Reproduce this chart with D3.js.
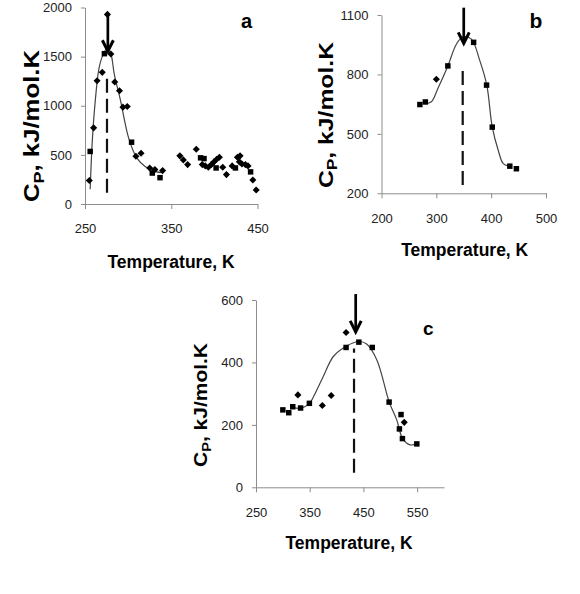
<!DOCTYPE html>
<html><head><meta charset="utf-8">
<script src="https://cdn.jsdelivr.net/npm/d3@7/dist/d3.min.js"></script>
<style>
body{margin:0;background:#fff}
svg{display:block}
text{font-family:"Liberation Sans",Arial,sans-serif}
</style>
</head><body>
<svg id="chart" width="580" height="594"></svg>
<script>
// ---------------- DATA ----------------
// Panel a
const aXTicks = [250, 350, 450];
const aYTicks = [0, 500, 1000, 1500, 2000];
const aDiamonds = [[255,240],[260,775],[264,1255],[270,1340],[276,1930],[280,1527],[284.5,1241],[290,1153],[294,986],[299,993],
  [309,486],[315,517],[325,367],[331,350],[340,340],
  [360,490],[364,449],[369,401],[379,558],[386,401],[389.5,388],[393,374],[396.5,401],[399.6,429],[402.7,456],[405.8,476],
  [409.7,374],[414,299],[420.6,388],[426.7,476],[429.8,490],[429,429],[432,408],[436,401],[439,388],[444.6,245],[448.5,143]];
const aSquares = [[256,535],[272.5,1530],[304,629],[328,315],[337,268],[384,470],[388,462],[402,367],[424.4,367],[442,327]];
const aCurveT  = [256,258.5,262,266,270,276,280,284,291,301,310,320,332,340];
const aCurveCp = [150,650,1060,1370,1500,1590,1530,1320,1060,660,470,380,330,320];
const aMark = {dashT:275.5, dashFrom:115, dashTo:1296, arrowT:276.5, arrowTop:1930, arrowTip:1555};

// Panel b
const bXTicks = [200, 300, 400, 500];
const bYTicks = [200, 500, 800, 1100];
const bDiamonds = [[300,776]];
const bSquares = [[270,648],[280,661],[321,843],[368,962],[391.6,746],[402,534],[434,337],[446,324]];
const bCurveT  = [280,291,303,321,337,349,364,379,392,402,413,422,434];
const bCurveCp = [652,662,730,843,955,990,978,872,746,534,416,350,337];
const bMark = {dashT:348.1, dashFrom:242, dashTo:832, arrowT:350, arrowTop:1137, arrowTip:957};

// Panel c
const cXTicks = [250, 350, 450, 550];
const cYTicks = [0, 200, 400, 600];
const cDiamonds = [[328,296],[373.5,262],[390,294],[417.7,496],[526,208]];
const cSquares = [[300,248],[311,239],[318.4,258],[333,254],[349.4,269],[417.7,448],[441.5,465],[466.5,448],[497.8,273],[520,233],[517,187],[522.6,156],[549.4,139]];
const cCurveT  = [318,333,349,357,375,394,418,442,456,475,498,512,523,537,549];
const cCurveCp = [256,253,268,290,354,419,452,467,459,408,273,216,156,136,139];
const cMark = {dashT:432.5, dashFrom:47, dashTo:445, arrowT:435.6, arrowTop:619, arrowTip:498};

// ---------------- LAYOUT ----------------
const panels = [
  {label:"a", xDom:[250,450], xRange:[85,257.5], yDom:[0,2000], yRange:[204,7.5], xTicks:aXTicks, yTicks:aYTicks,
   diamonds:aDiamonds, squares:aSquares, curveT:aCurveT, curveCp:aCurveCp, mark:aMark,
   labelPos:[246.5,28], labelSize:20, yTitle:{cx:31, cy:126, fs:22, len:152}, xTitle:{cx:171, y:268}},
  {label:"b", xDom:[200,500], xRange:[381.5,546], yDom:[200,1100], yRange:[193.3,15], xTicks:bXTicks, yTicks:bYTicks,
   diamonds:bDiamonds, squares:bSquares, curveT:bCurveT, curveCp:bCurveCp, mark:bMark,
   labelPos:[536,28.3], labelSize:21, yTitle:{cx:325, cy:115, fs:21, len:146}, xTitle:{cx:464.7, y:255.5}},
  {label:"c", xDom:[250,600], xRange:[256,444], yDom:[0,600], yRange:[487.3,300], xTicks:cXTicks, yTicks:cYTicks,
   diamonds:cDiamonds, squares:cSquares, curveT:cCurveT, curveCp:cCurveCp, mark:cMark,
   labelPos:[428.3,335], labelSize:19, yTitle:{cx:200, cy:405, fs:19, len:124}, xTitle:{cx:349, y:548.5}}
];

const svg = d3.select("#chart");
const axisColor = "#8c8c8c";
const tickTextColor = "#222";

panels.forEach(p => {
  const x = d3.scaleLinear().domain(p.xDom).range(p.xRange);
  const y = d3.scaleLinear().domain(p.yDom).range(p.yRange);
  const g = svg.append("g");

  // axes
  const xAxis = d3.axisBottom(x).tickValues(p.xTicks).tickSize(5).tickSizeOuter(0).tickPadding(15).tickFormat(d3.format("d"));
  const yAxis = d3.axisLeft(y).tickValues(p.yTicks).tickSize(4).tickSizeOuter(0).tickPadding(9).tickFormat(d3.format("d"));
  const gx = g.append("g").attr("transform", `translate(0,${p.yRange[0]})`).call(xAxis);
  const gy = g.append("g").attr("transform", `translate(${p.xRange[0]},0)`).call(yAxis);
  [gx, gy].forEach(a => {
    a.select(".domain").attr("stroke", axisColor).attr("stroke-width", 1);
    a.selectAll(".tick line").attr("stroke", axisColor);
    a.selectAll(".tick text").attr("fill", tickTextColor).style("font-size", "13px");
  });

  // dashed line
  g.append("line")
    .attr("x1", x(p.mark.dashT)).attr("x2", x(p.mark.dashT))
    .attr("y1", y(p.mark.dashFrom)).attr("y2", y(p.mark.dashTo))
    .attr("stroke", "#111").attr("stroke-width", 2.2).attr("stroke-dasharray", "14,6");

  // curve
  const line = d3.line().x(d => x(d[0])).y(d => y(d[1])).curve(d3.curveCatmullRom.alpha(0.5));
  g.append("path").datum(d3.zip(p.curveT, p.curveCp))
    .attr("d", line).attr("fill", "none").attr("stroke", "#444").attr("stroke-width", 1.2);

  // markers
  const sq = d3.symbol().type(d3.symbolSquare).size(30);
  const dm = d3.symbol().type(d3.symbolSquare).size(25);
  g.selectAll(".sq").data(p.squares).join("path")
    .attr("d", sq).attr("fill", "#000")
    .attr("transform", d => `translate(${x(d[0])},${y(d[1])})`);
  g.selectAll(".dm").data(p.diamonds).join("path")
    .attr("d", dm).attr("fill", "#000")
    .attr("transform", d => `translate(${x(d[0])},${y(d[1])}) rotate(45)`);

  // arrow
  const ax = x(p.mark.arrowT), at = y(p.mark.arrowTop), ap = y(p.mark.arrowTip);
  g.append("line").attr("x1", ax).attr("x2", ax).attr("y1", at).attr("y2", ap - 2)
    .attr("stroke", "#000").attr("stroke-width", 2.7);
  g.append("path").attr("d", `M${ax-5.5},${ap-11} L${ax},${ap} L${ax+5.5},${ap-11}`)
    .attr("fill", "none").attr("stroke", "#000").attr("stroke-width", 3);

  // panel label
  g.append("text").attr("x", p.labelPos[0]).attr("y", p.labelPos[1])
    .attr("text-anchor", "middle").style("font-size", p.labelSize + "px").style("font-weight", "bold")
    .attr("fill", "#000").text(p.label);

  // y title
  const yt = p.yTitle;
  const t = g.append("text")
    .attr("transform", `translate(${yt.cx + 0.36*yt.fs},${yt.cy}) rotate(-90)`)
    .attr("text-anchor", "middle").style("font-size", yt.fs + "px").style("font-weight", "bold")
    .attr("fill", "#000").attr("textLength", yt.len).attr("lengthAdjust", "spacingAndGlyphs");
  t.append("tspan").text("C");
  t.append("tspan").attr("dy", yt.fs*0.22).style("font-size", (yt.fs*0.7) + "px").text("P");
  t.append("tspan").attr("dy", -yt.fs*0.22).text(", kJ/mol.K");

  // x title
  g.append("text").attr("x", p.xTitle.cx).attr("y", p.xTitle.y)
    .attr("text-anchor", "middle").style("font-size", "17.5px").style("font-weight", "bold")
    .attr("fill", "#000").text("Temperature, K");
});
</script>
</body></html>
